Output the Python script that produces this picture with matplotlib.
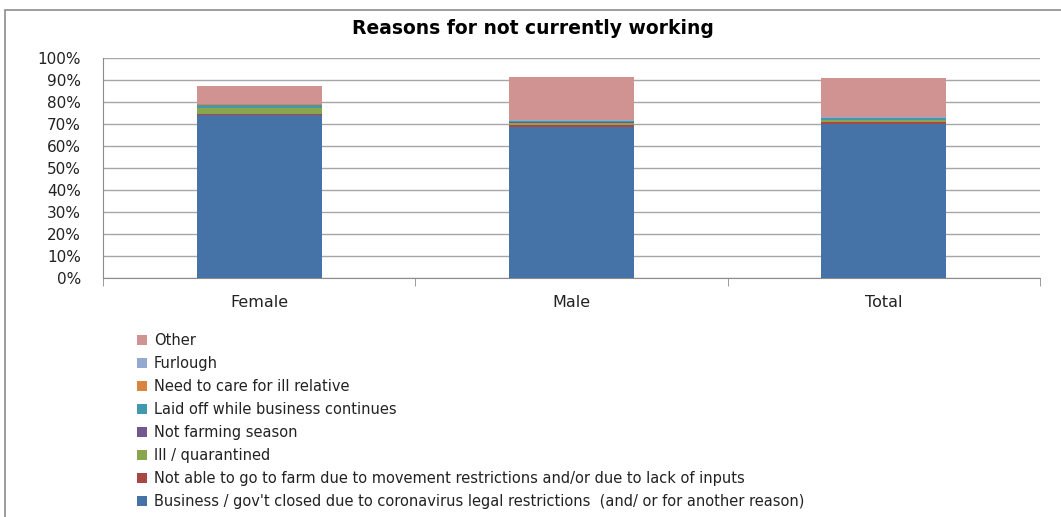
import matplotlib
matplotlib.use("Agg")
import matplotlib.pyplot as plt
from matplotlib.patches import Rectangle, Patch
import numpy as np

categories = ["Female", "Male", "Total"]
series_names = [
    "Business / gov't closed due to coronavirus legal restrictions  (and/ or for another reason)",
    "Not able to go to farm due to movement restrictions and/or due to lack of inputs",
    "Ill / quarantined",
    "Not farming season",
    "Laid off while business continues",
    "Need to care for ill relative",
    "Furlough",
    "Other",
]
business = [74.0, 68.8, 70.0]
not_able_farm = [0.6, 0.9, 0.8]
ill = [2.6, 0.9, 1.0]
not_farming = [0.1, 0.1, 0.2]
laid_off = [1.5, 0.5, 0.6]
care_relative = [0.1, 0.1, 0.1]
furlough = [0.4, 0.5, 0.3]
other = [8.0, 19.7, 18.0]
series_values = [business, not_able_farm, ill, not_farming, laid_off, care_relative, furlough, other]
colors = ["#4572A7", "#AA4643", "#89A54E", "#71588F", "#4198AF", "#DB843D", "#93A9CF", "#D19392"]
yticks = [0, 10, 20, 30, 40, 50, 60, 70, 80, 90, 100]
ytick_labels = [f"{v}%" for v in yticks]

plt.rcParams['font.family'] = ['DejaVu Sans']
fig = plt.figure(figsize=(10.61, 5.17), dpi=100)
W, H = 1061, 517
ax = fig.add_axes([103 / W, 1 - 278 / H, (1040 - 103) / W, (278 - 58) / H])

x = np.arange(len(categories))
bottom = np.zeros(len(categories))
for name, vals, c in zip(series_names, series_values, colors):
    ax.bar(x, vals, bottom=bottom, width=0.4, color=c, label=name, zorder=3)
    bottom += np.array(vals)

ax.set_xlim(-0.5, len(categories) - 0.5)
ax.set_ylim(0, 100)
ax.set_yticks(yticks)
ax.set_yticklabels(ytick_labels, fontsize=11, color="#222222")
ax.yaxis.grid(True, color="#a6a6a6", linewidth=1, zorder=0)
ax.set_axisbelow(True)
for s in ["top", "right"]:
    ax.spines[s].set_visible(False)
ax.spines["left"].set_color("#8c8c8c")
ax.spines["bottom"].set_color("#8c8c8c")
ax.tick_params(axis="y", length=0, pad=16)
ax.set_xticks(x)
ax.set_xticklabels(categories, fontsize=11.5, color="#222222")
ax.tick_params(axis="x", length=0, pad=12)
ax.set_xticks(np.arange(-0.5, len(categories)), minor=True)
ax.tick_params(axis="x", which="minor", length=6, color="#8c8c8c")

fig.text(533 / W, 1 - 28 / H, "Reasons for not currently working", ha="center", va="center",
         fontsize=13.5, fontweight="bold")

handles = [Patch(facecolor=c, edgecolor="none") for c in colors][::-1]
labels = series_names[::-1]
fig.legend(handles, labels, loc="upper left", bbox_to_anchor=(137 / W, 1 - 333 / H),
           frameon=False, fontsize=10.5, handlelength=0.7, handleheight=0.7,
           handletextpad=0.45, labelspacing=0.55, borderaxespad=0, borderpad=0,
           labelcolor="#222222")

fig.patches.append(Rectangle((5 / W, -0.1), 1.2, 1 - 10 / H + 0.1, transform=fig.transFigure,
                             fill=False, edgecolor="#8c8c8c", linewidth=1.2))

fig.savefig("out.png", dpi=100)
